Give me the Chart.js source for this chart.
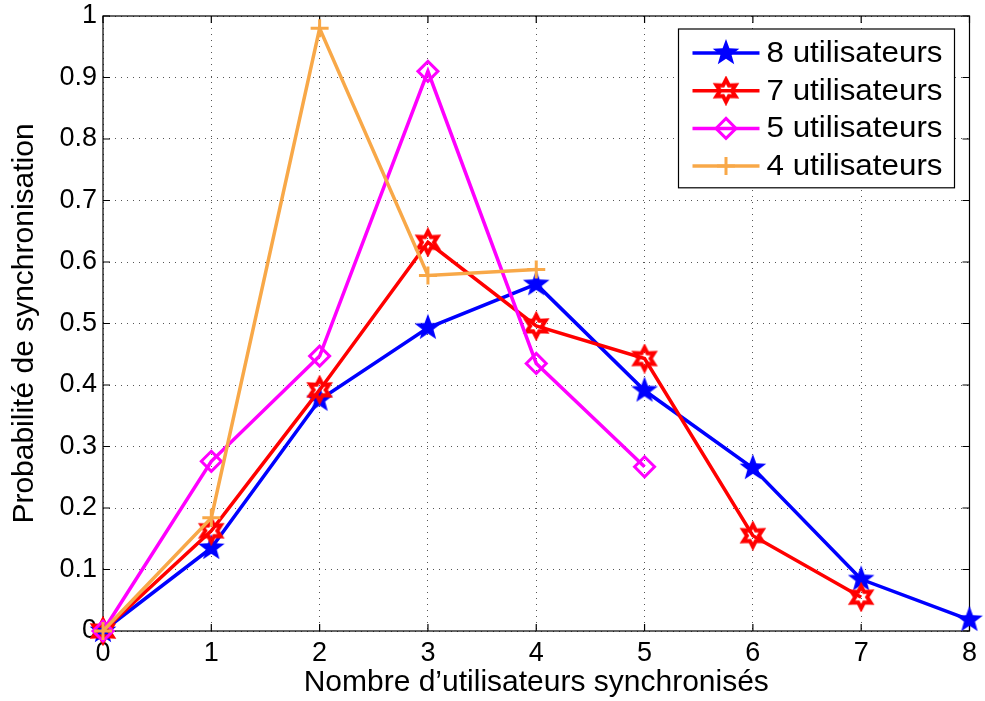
<!DOCTYPE html>
<html>
<head>
<meta charset="utf-8">
<script src="https://cdn.jsdelivr.net/npm/chart.js@4.4.0/dist/chart.umd.min.js"></script>
<style>
html,body{margin:0;padding:0;background:#fff;}
#cadre{width:985px;height:701px;}
</style>
</head>
<body>
<div id="cadre"><canvas id="graphe"></canvas></div>
<script>
// valeurs
const abscisses = [0, 1, 2, 3, 4, 5, 6, 7, 8];
const proba8 = [0, 0.135, 0.376, 0.493, 0.564, 0.391, 0.265, 0.084, 0.018];
const proba7 = [0, 0.163, 0.392, 0.632, 0.496, 0.443, 0.155, 0.055];
const proba5 = [0, 0.276, 0.447, 0.910, 0.435, 0.267];
const proba4 = [0, 0.184, 0.980, 0.578, 0.588];
const etiquettes = ['8 utilisateurs', '7 utilisateurs', '5 utilisateurs', '4 utilisateurs'];
const ticksY = [0, 0.1, 0.2, 0.3, 0.4, 0.5, 0.6, 0.7, 0.8, 0.9, 1];

const BLEU = '#0000ff', ROUGE = '#ff0000', MAGENTA = '#ff00ff', ORANGE = '#f8a848';
const POLICE = "'Liberation Sans', Arial, Helvetica, sans-serif";

function etoile(branches, rExt, rInt, couleur, plein, epaisseur) {
  const c = document.createElement('canvas');
  const t = Math.ceil(rExt * 2 + 8);
  c.width = t; c.height = t;
  const ctx = c.getContext('2d');
  ctx.beginPath();
  for (let i = 0; i < branches * 2; i++) {
    const r = i % 2 === 0 ? rExt : rInt;
    const a = -Math.PI / 2 + i * Math.PI / branches;
    const px = t / 2 + r * Math.cos(a), py = t / 2 + r * Math.sin(a);
    if (i === 0) ctx.moveTo(px, py); else ctx.lineTo(px, py);
  }
  ctx.closePath();
  if (plein) { ctx.fillStyle = couleur; ctx.fill(); }
  else { ctx.strokeStyle = couleur; ctx.lineWidth = epaisseur; ctx.lineJoin = 'miter'; ctx.stroke(); }
  return c;
}
const imgEtoile = etoile(5, 14, 5.8, BLEU, true);
const imgHexa = etoile(6, 11, 6, ROUGE, false, 4);

function points(vals) {
  return vals.map((v, i) => ({x: abscisses[i], y: v}));
}

const series = [
  {label: etiquettes[0], data: points(proba8), borderColor: BLEU, pointStyle: imgEtoile, order: 4},
  {label: etiquettes[1], data: points(proba7), borderColor: ROUGE, pointStyle: imgHexa, order: 3},
  {label: etiquettes[2], data: points(proba5), borderColor: MAGENTA, pointStyle: 'rectRot', pointRadius: 10, pointBorderWidth: 3, order: 2},
  {label: etiquettes[3], data: points(proba4), borderColor: ORANGE, pointStyle: 'cross', pointRadius: 9, pointBorderWidth: 3, order: 1}
];
series.forEach(s => {
  s.borderWidth = 3.5;
  s.pointBorderColor = s.borderColor;
  s.pointBackgroundColor = 'rgba(0,0,0,0)';
  if (s.pointRadius === undefined) s.pointRadius = 12;
  s.pointHoverRadius = s.pointRadius;
  s.tension = 0;
  s.clip = false;
});

// cadre, graduations interieures et legende facon matlab
const cadrePlugin = {
  id: 'cadre',
  beforeDatasetsDraw(chart) {
    const ctx = chart.ctx, a = chart.chartArea;
    const sx = chart.scales.x, sy = chart.scales.y;
    ctx.save();
    ctx.strokeStyle = '#000';
    ctx.lineWidth = 1.2;
    ctx.strokeRect(a.left, a.top, a.right - a.left, a.bottom - a.top);
    ctx.beginPath();
    sx.ticks.forEach(t => {
      const px = sx.getPixelForValue(t.value);
      ctx.moveTo(px, a.bottom); ctx.lineTo(px, a.bottom - 7);
      ctx.moveTo(px, a.top); ctx.lineTo(px, a.top + 7);
    });
    sy.ticks.forEach(t => {
      const py = sy.getPixelForValue(t.value);
      ctx.moveTo(a.left, py); ctx.lineTo(a.left + 7, py);
      ctx.moveTo(a.right, py); ctx.lineTo(a.right - 7, py);
    });
    ctx.stroke();
    ctx.restore();
  },
  afterDatasetsDraw(chart) {
    const ctx = chart.ctx, a = chart.chartArea;
    const sets = chart.data.datasets;
    ctx.save();
    ctx.font = '29px ' + POLICE;
    const largeurTexte = 176;
    const hLigne = 37.7;
    const w = 88 + largeurTexte + 12, h = hLigne * sets.length + 8;
    const x0 = a.right - 15 - w, y0 = a.top + 13;
    ctx.fillStyle = '#fff';
    ctx.fillRect(x0, y0, w, h);
    ctx.strokeStyle = '#000';
    ctx.lineWidth = 1.2;
    ctx.strokeRect(x0, y0, w, h);
    sets.forEach((s, i) => {
      const yc = y0 + 24 + i * hLigne;
      const xl = x0 + 14, xr = x0 + 81, xm = (xl + xr) / 2;
      ctx.strokeStyle = s.borderColor;
      ctx.lineWidth = s.borderWidth;
      ctx.beginPath(); ctx.moveTo(xl, yc); ctx.lineTo(xr, yc); ctx.stroke();
      const st = s.pointStyle;
      if (st instanceof HTMLCanvasElement) {
        ctx.drawImage(st, xm - st.width / 2, yc - st.height / 2);
      } else if (st === 'rectRot') {
        const r = s.pointRadius;
        ctx.lineWidth = s.pointBorderWidth;
        ctx.beginPath();
        ctx.moveTo(xm, yc - r); ctx.lineTo(xm + r, yc); ctx.lineTo(xm, yc + r); ctx.lineTo(xm - r, yc);
        ctx.closePath(); ctx.stroke();
      } else {
        const r = s.pointRadius;
        ctx.lineWidth = s.pointBorderWidth;
        ctx.beginPath();
        ctx.moveTo(xm, yc - r); ctx.lineTo(xm, yc + r);
        ctx.moveTo(xm - r, yc); ctx.lineTo(xm + r, yc);
        ctx.stroke();
      }
      // texte un peu elargi comme sur la figure d'origine
      const mesure = ctx.measureText(s.label).width;
      ctx.save();
      ctx.translate(x0 + 88, yc + 1);
      ctx.scale(largeurTexte / mesure, 1);
      ctx.fillStyle = '#000';
      ctx.textBaseline = 'middle';
      ctx.textAlign = 'left';
      ctx.fillText(s.label, 0, 0);
      ctx.restore();
    });
    ctx.restore();
  }
};

const grille = {color: '#555', lineWidth: 1, drawTicks: false};
const bord = {display: false, dash: [1, 5]};

new Chart(document.getElementById('graphe'), {
  type: 'line',
  data: {datasets: series},
  plugins: [cadrePlugin],
  options: {
    responsive: true,
    maintainAspectRatio: false,
    animation: false,
    layout: {padding: {top: 16, right: 5, left: 0, bottom: 0}},
    plugins: {legend: {display: false}, tooltip: {enabled: false}},
    scales: {
      x: {
        type: 'linear', min: 0, max: 8,
        grid: grille, border: bord,
        afterFit(sc) { sc.height = 70; sc.paddingLeft = 0; sc.paddingRight = 0; },
        ticks: {stepSize: 1, padding: 6, color: '#000', font: {family: POLICE, size: 27}},
        title: {display: true, text: 'Nombre d\u2019utilisateurs synchronisés', color: '#000',
                font: {family: POLICE, size: 30}, padding: {top: 0, bottom: 0}}
      },
      y: {
        type: 'linear', min: 0, max: 1,
        grid: grille, border: bord,
        afterFit(sc) { sc.width = 103; sc.paddingTop = 0; sc.paddingBottom = 0; },
        afterBuildTicks(sc) { sc.ticks = ticksY.map(v => ({value: v})); },
        ticks: {padding: 6, color: '#000', font: {family: POLICE, size: 27},
                callback: v => String(+v.toFixed(1))},
        title: {display: true, text: 'Probabilité de synchronisation', color: '#000',
                font: {family: POLICE, size: 30}, padding: {top: 7, bottom: 0}}
      }
    }
  }
});
</script>
</body>
</html>
